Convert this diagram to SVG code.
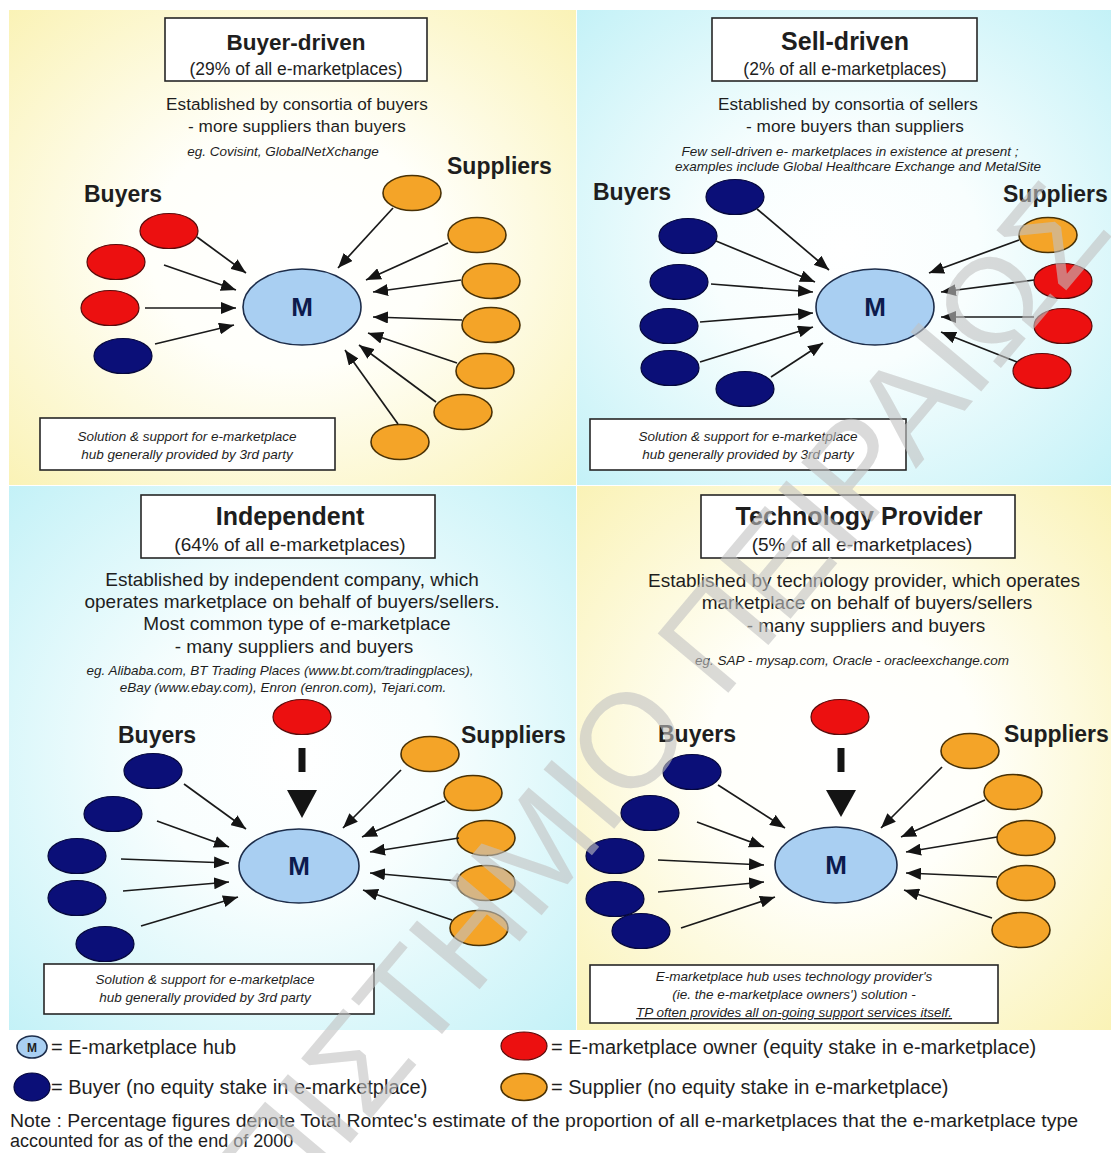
<svg xmlns="http://www.w3.org/2000/svg" width="1111" height="1153" viewBox="0 0 1111 1153">
  <defs>
    <radialGradient id="gYellow" cx="50%" cy="50%" r="72%">
      <stop offset="0" stop-color="#ffffff"/>
      <stop offset="0.35" stop-color="#fffffa"/>
      <stop offset="1" stop-color="#faf2b4"/>
    </radialGradient>
    <radialGradient id="gCyan" cx="50%" cy="50%" r="72%">
      <stop offset="0" stop-color="#ffffff"/>
      <stop offset="0.35" stop-color="#f8fefe"/>
      <stop offset="1" stop-color="#c2f1f7"/>
    </radialGradient>
    <marker id="ah" viewBox="0 0 15 12" refX="15" refY="6" markerWidth="15" markerHeight="12" markerUnits="userSpaceOnUse" orient="auto">
      <path d="M0,0 L15,6 L0,12 z" fill="#141414"/>
    </marker>
    <style>
      text { font-family: "Liberation Sans", Arial, sans-serif; fill: #1e1e1e; }
      .title { font-size: 25px; font-weight: bold; text-anchor: middle; }
      .sub { font-size: 19px; text-anchor: middle; }
      .body { font-size: 19px; text-anchor: middle; }
      .it { font-size: 13.5px; font-style: italic; text-anchor: middle; }
      .sm .title { font-size: 22.5px; }
      .sm .sub { font-size: 17.5px; }
      .sm .body { font-size: 17.2px; }
      .lbl { font-size: 23px; font-weight: bold; }
      .leg { font-size: 20px; }
      .box { fill: #ffffff; stroke: #262626; stroke-width: 1.6; }
      .hub { fill: #a9cff2; stroke: #1d2d4a; stroke-width: 1.6; }
      .hubm { font-size: 26px; font-weight: bold; fill: #0d1b4d; text-anchor: middle; }
      .buyer { fill: #0b0f78; stroke: #05073d; stroke-width: 1.2; }
      .owner { fill: #ec1010; stroke: #5a0b0b; stroke-width: 1.2; }
      .supplier { fill: #f4a428; stroke: #4a3206; stroke-width: 1.6; }
      .arr { stroke: #1a1a1a; stroke-width: 1.7; fill: none; marker-end: url(#ah); }
      .bar { stroke: #141414; stroke-width: 7; }
      .tri { fill: #141414; }
      .wm { font-size: 134px; text-anchor: middle; fill: #c2c2c2; fill-opacity: 0.6; }
    </style>
  </defs>

  <!-- page and quadrant backgrounds -->
  <rect x="0" y="0" width="1111" height="1153" fill="#ffffff"/>
  <rect x="9" y="10" width="567" height="475" fill="url(#gYellow)"/>
  <rect x="577" y="10" width="534" height="475" fill="url(#gCyan)"/>
  <rect x="9" y="486" width="567" height="544" fill="url(#gCyan)"/>
  <rect x="577" y="486" width="534" height="544" fill="url(#gYellow)"/>

  <!-- ===== Buyer-driven ===== -->
  <g id="tl-header" class="sm">
    <rect class="box" x="165" y="18" width="262" height="63"/>
    <text class="title" x="296" y="50">Buyer-driven</text>
    <text class="sub" x="296" y="75">(29% of all e-marketplaces)</text>
    <text class="body" x="297" y="110">Established by consortia of buyers</text>
    <text class="body" x="297" y="132">- more suppliers than buyers</text>
    <text class="it" x="283" y="156" font-size="12.7">eg. Covisint, GlobalNetXchange</text>
    <text class="lbl" x="447" y="174">Suppliers</text>
    <text class="lbl" x="84" y="202">Buyers</text>
  </g>
  <g id="tl-hub"><ellipse class="hub" cx="302" cy="307" rx="59" ry="38"/><text class="hubm" x="302" y="316">M</text></g>
  <g id="tl-owner-1"><ellipse class="owner" cx="169" cy="231" rx="29" ry="17.5"/></g>
  <g id="tl-owner-2"><ellipse class="owner" cx="116" cy="262" rx="29" ry="17.5"/></g>
  <g id="tl-owner-3"><ellipse class="owner" cx="110" cy="308" rx="29" ry="17.5"/></g>
  <g id="tl-buyer-1"><ellipse class="buyer" cx="123" cy="356" rx="29" ry="17.5"/></g>
  <g id="tl-supplier-1"><ellipse class="supplier" cx="412" cy="193" rx="29" ry="17.5"/></g>
  <g id="tl-supplier-2"><ellipse class="supplier" cx="477" cy="235" rx="29" ry="17.5"/></g>
  <g id="tl-supplier-3"><ellipse class="supplier" cx="491" cy="281" rx="29" ry="17.5"/></g>
  <g id="tl-supplier-4"><ellipse class="supplier" cx="491" cy="325" rx="29" ry="17.5"/></g>
  <g id="tl-supplier-5"><ellipse class="supplier" cx="485" cy="371" rx="29" ry="17.5"/></g>
  <g id="tl-supplier-6"><ellipse class="supplier" cx="463" cy="412" rx="29" ry="17.5"/></g>
  <g id="tl-supplier-7"><ellipse class="supplier" cx="400" cy="442" rx="29" ry="17.5"/></g>
  <g id="tl-note">
    <rect class="box" x="40" y="418" width="295" height="52"/>
    <text class="it" x="187" y="441">Solution &amp; support for e-marketplace</text>
    <text class="it" x="187" y="459">hub generally provided by 3rd party</text>
  </g>

  <!-- ===== Sell-driven ===== -->
  <g id="tr-header" class="sm">
    <rect class="box" x="712" y="18" width="265" height="63"/>
    <text class="title" x="845" y="50" style="font-size:25px">Sell-driven</text>
    <text class="sub" x="845" y="75">(2% of all e-marketplaces)</text>
    <text class="body" x="848" y="110">Established by consortia of sellers</text>
    <text class="body" x="855" y="132">- more buyers than suppliers</text>
    <text class="it" x="850" y="156">Few sell-driven e- marketplaces in existence at present ;</text>
    <text class="it" x="858" y="171">examples include Global Healthcare Exchange and MetalSite</text>
    <text class="lbl" x="593" y="200">Buyers</text>
    <text class="lbl" x="1003" y="202">Suppliers</text>
  </g>
  <g id="tr-hub"><ellipse class="hub" cx="875" cy="307" rx="59" ry="38"/><text class="hubm" x="875" y="316">M</text></g>
  <g id="tr-buyer-1"><ellipse class="buyer" cx="735" cy="197" rx="29" ry="17.5"/></g>
  <g id="tr-buyer-2"><ellipse class="buyer" cx="688" cy="236" rx="29" ry="17.5"/></g>
  <g id="tr-buyer-3"><ellipse class="buyer" cx="679" cy="282" rx="29" ry="17.5"/></g>
  <g id="tr-buyer-4"><ellipse class="buyer" cx="669" cy="326" rx="29" ry="17.5"/></g>
  <g id="tr-buyer-5"><ellipse class="buyer" cx="670" cy="368" rx="29" ry="17.5"/></g>
  <g id="tr-buyer-6"><ellipse class="buyer" cx="745" cy="389" rx="29" ry="17.5"/></g>
  <g id="tr-supplier-1"><ellipse class="supplier" cx="1048" cy="235" rx="29" ry="17.5"/></g>
  <g id="tr-owner-1"><ellipse class="owner" cx="1063" cy="281" rx="29" ry="17.5"/></g>
  <g id="tr-owner-2"><ellipse class="owner" cx="1063" cy="326" rx="29" ry="17.5"/></g>
  <g id="tr-owner-3"><ellipse class="owner" cx="1042" cy="371" rx="29" ry="17.5"/></g>
  <g id="tr-note">
    <rect class="box" x="590" y="419" width="316" height="51"/>
    <text class="it" x="748" y="441">Solution &amp; support for e-marketplace</text>
    <text class="it" x="748" y="459">hub generally provided by 3rd party</text>
  </g>

  <!-- ===== Independent ===== -->
  <g id="bl-header">
    <rect class="box" x="141" y="495" width="294" height="63"/>
    <text class="title" x="290" y="525">Independent</text>
    <text class="sub" x="290" y="551">(64% of all e-marketplaces)</text>
    <text class="body" x="292" y="586" font-size="18">Established by independent company, which</text>
    <text class="body" x="292" y="608">operates marketplace on behalf of buyers/sellers.</text>
    <text class="body" x="297" y="630">Most common type of e-marketplace</text>
    <text class="body" x="294" y="653">- many suppliers and buyers</text>
    <text class="it" x="280" y="675" font-size="15.3">eg. Alibaba.com, BT Trading Places (www.bt.com/tradingplaces),</text>
    <text class="it" x="283" y="692" font-size="15.3">eBay (www.ebay.com), Enron (enron.com), Tejari.com.</text>
    <text class="lbl" x="118" y="743">Buyers</text>
    <text class="lbl" x="461" y="743">Suppliers</text>
  </g>
  <g id="bl-hub"><ellipse class="hub" cx="299" cy="866" rx="60" ry="37"/><text class="hubm" x="299" y="875">M</text></g>
  <g id="bl-owner"><ellipse class="owner" cx="302" cy="717" rx="29" ry="17.5"/></g>
  <g id="bl-buyer-1"><ellipse class="buyer" cx="153" cy="771" rx="29" ry="17.5"/></g>
  <g id="bl-buyer-2"><ellipse class="buyer" cx="113" cy="814" rx="29" ry="17.5"/></g>
  <g id="bl-buyer-3"><ellipse class="buyer" cx="77" cy="856" rx="29" ry="17.5"/></g>
  <g id="bl-buyer-4"><ellipse class="buyer" cx="77" cy="898" rx="29" ry="17.5"/></g>
  <g id="bl-buyer-5"><ellipse class="buyer" cx="105" cy="944" rx="29" ry="17.5"/></g>
  <g id="bl-supplier-1"><ellipse class="supplier" cx="430" cy="754" rx="29" ry="17.5"/></g>
  <g id="bl-supplier-2"><ellipse class="supplier" cx="473" cy="793" rx="29" ry="17.5"/></g>
  <g id="bl-supplier-3"><ellipse class="supplier" cx="486" cy="838" rx="29" ry="17.5"/></g>
  <g id="bl-supplier-4"><ellipse class="supplier" cx="486" cy="883" rx="29" ry="17.5"/></g>
  <g id="bl-supplier-5"><ellipse class="supplier" cx="479" cy="928" rx="29" ry="17.5"/></g>
  <g id="bl-note">
    <rect class="box" x="44" y="964" width="330" height="50"/>
    <text class="it" x="205" y="984">Solution &amp; support for e-marketplace</text>
    <text class="it" x="205" y="1002">hub generally provided by 3rd party</text>
  </g>

  <!-- ===== Technology Provider ===== -->
  <g id="br-header">
    <rect class="box" x="701" y="495" width="314" height="63"/>
    <text class="title" x="859" y="525">Technology Provider</text>
    <text class="sub" x="862" y="551">(5% of all e-marketplaces)</text>
    <text class="body" x="864" y="587">Established by technology provider, which operates</text>
    <text class="body" x="867" y="609">marketplace on behalf of buyers/sellers</text>
    <text class="body" x="866" y="632">- many suppliers and buyers</text>
    <text class="it" x="852" y="665" font-size="14.8">eg. SAP - mysap.com, Oracle - oracleexchange.com</text>
    <text class="lbl" x="658" y="742">Buyers</text>
    <text class="lbl" x="1004" y="742">Suppliers</text>
  </g>
  <g id="br-hub"><ellipse class="hub" cx="836" cy="865" rx="61" ry="38"/><text class="hubm" x="836" y="874">M</text></g>
  <g id="br-owner"><ellipse class="owner" cx="840" cy="717" rx="29" ry="17.5"/></g>
  <g id="br-buyer-1"><ellipse class="buyer" cx="692" cy="772" rx="29" ry="17.5"/></g>
  <g id="br-buyer-2"><ellipse class="buyer" cx="650" cy="813" rx="29" ry="17.5"/></g>
  <g id="br-buyer-3"><ellipse class="buyer" cx="615" cy="856" rx="29" ry="17.5"/></g>
  <g id="br-buyer-4"><ellipse class="buyer" cx="615" cy="899" rx="29" ry="17.5"/></g>
  <g id="br-buyer-5"><ellipse class="buyer" cx="641" cy="931" rx="29" ry="17.5"/></g>
  <g id="br-supplier-1"><ellipse class="supplier" cx="970" cy="751" rx="29" ry="17.5"/></g>
  <g id="br-supplier-2"><ellipse class="supplier" cx="1013" cy="792" rx="29" ry="17.5"/></g>
  <g id="br-supplier-3"><ellipse class="supplier" cx="1026" cy="838" rx="29" ry="17.5"/></g>
  <g id="br-supplier-4"><ellipse class="supplier" cx="1026" cy="883" rx="29" ry="17.5"/></g>
  <g id="br-supplier-5"><ellipse class="supplier" cx="1021" cy="930" rx="29" ry="17.5"/></g>
  <g id="br-note">
    <rect class="box" x="590" y="965" width="408" height="58"/>
    <text class="it" x="794" y="981">E-marketplace hub uses technology provider's</text>
    <text class="it" x="794" y="999">(ie. the e-marketplace owners') solution -</text>
    <text class="it" x="794" y="1017" text-decoration="underline">TP often provides all on-going support services itself.</text>
  </g>

  <!-- connectors -->
  <g id="connectors">
    <!-- Buyer-driven -->
    <line class="arr" x1="197" y1="237" x2="246" y2="273"/>
    <line class="arr" x1="164" y1="265" x2="236" y2="290"/>
    <line class="arr" x1="145" y1="308" x2="236" y2="308"/>
    <line class="arr" x1="155" y1="344" x2="234" y2="325"/>
    <line class="arr" x1="393" y1="208" x2="338" y2="268"/>
    <line class="arr" x1="448" y1="243" x2="366" y2="280"/>
    <line class="arr" x1="461" y1="280" x2="373" y2="292"/>
    <line class="arr" x1="462" y1="320" x2="373" y2="317"/>
    <line class="arr" x1="457" y1="363" x2="368" y2="333"/>
    <line class="arr" x1="436" y1="402" x2="359" y2="345"/>
    <line class="arr" x1="398" y1="424" x2="345" y2="350"/>
    <!-- Sell-driven -->
    <line class="arr" x1="757" y1="209" x2="829" y2="270"/>
    <line class="arr" x1="716" y1="241" x2="815" y2="282"/>
    <line class="arr" x1="711" y1="284" x2="813" y2="292"/>
    <line class="arr" x1="700" y1="322" x2="813" y2="313"/>
    <line class="arr" x1="700" y1="362" x2="813" y2="327"/>
    <line class="arr" x1="771" y1="377" x2="823" y2="343"/>
    <line class="arr" x1="1019" y1="240" x2="929" y2="273"/>
    <line class="arr" x1="1034" y1="280" x2="941" y2="292"/>
    <line class="arr" x1="1034" y1="317" x2="941" y2="317"/>
    <line class="arr" x1="1017" y1="362" x2="941" y2="332"/>
    <!-- Independent -->
    <line class="bar" x1="302" y1="748" x2="302" y2="772"/>
    <polygon class="tri" points="287,790 317,790 302,818"/>
    <line class="arr" x1="184" y1="784" x2="246" y2="829"/>
    <line class="arr" x1="157" y1="821" x2="229" y2="847"/>
    <line class="arr" x1="121" y1="859" x2="229" y2="863"/>
    <line class="arr" x1="123" y1="891" x2="229" y2="882"/>
    <line class="arr" x1="141" y1="926" x2="238" y2="897"/>
    <line class="arr" x1="401" y1="770" x2="343" y2="828"/>
    <line class="arr" x1="445" y1="801" x2="362" y2="837"/>
    <line class="arr" x1="459" y1="838" x2="370" y2="852"/>
    <line class="arr" x1="459" y1="881" x2="370" y2="873"/>
    <line class="arr" x1="452" y1="920" x2="363" y2="890"/>
    <!-- Technology Provider -->
    <line class="bar" x1="841" y1="748" x2="841" y2="772"/>
    <polygon class="tri" points="826,790 856,790 841,817"/>
    <line class="arr" x1="718" y1="785" x2="785" y2="828"/>
    <line class="arr" x1="697" y1="822" x2="764" y2="847"/>
    <line class="arr" x1="658" y1="860" x2="764" y2="865"/>
    <line class="arr" x1="658" y1="892" x2="764" y2="882"/>
    <line class="arr" x1="681" y1="928" x2="775" y2="897"/>
    <line class="arr" x1="942" y1="767" x2="881" y2="828"/>
    <line class="arr" x1="985" y1="800" x2="901" y2="837"/>
    <line class="arr" x1="997" y1="837" x2="906" y2="852"/>
    <line class="arr" x1="997" y1="877" x2="906" y2="873"/>
    <line class="arr" x1="992" y1="918" x2="904" y2="890"/>
  </g>

  <!-- legend -->
  <g id="legend-hub">
    <ellipse cx="32" cy="1047" rx="15" ry="11" fill="#a9cff2" stroke="#1d2d4a" stroke-width="1.6"/>
    <text x="32" y="1052" font-size="12" font-weight="bold" fill="#0d1b4d" text-anchor="middle">M</text>
    <text class="leg" x="51" y="1054">= E-marketplace hub</text>
  </g>
  <g id="legend-owner">
    <ellipse class="owner" cx="524" cy="1046" rx="23" ry="14"/>
    <text class="leg" x="551" y="1054" font-size="21">= E-marketplace owner (equity stake in e-marketplace)</text>
  </g>
  <g id="legend-buyer">
    <ellipse class="buyer" cx="32" cy="1087" rx="18" ry="14"/>
    <text class="leg" x="51" y="1094">= Buyer (no equity stake in e-marketplace)</text>
  </g>
  <g id="legend-supplier">
    <ellipse class="supplier" cx="524" cy="1087" rx="23" ry="13.5"/>
    <text class="leg" x="551" y="1094" font-size="21">= Supplier (no equity stake in e-marketplace)</text>
  </g>
  <g id="footnote">
    <text x="10" y="1127" font-size="18" textLength="1068" lengthAdjust="spacingAndGlyphs">Note : Percentage figures denote Total Romtec's estimate of the proportion of all e-marketplaces that the e-marketplace type</text>
    <text x="10" y="1147" font-size="18">accounted for as of the end of 2000</text>
  </g>

  <!-- diagonal watermark -->
  <text class="wm" transform="translate(578,872) rotate(-50)" x="0" y="0">ΠΑΝΕΠΙΣΤΗΜΙΟ ΠΕΙΡΑΙΩΣ</text>
</svg>
